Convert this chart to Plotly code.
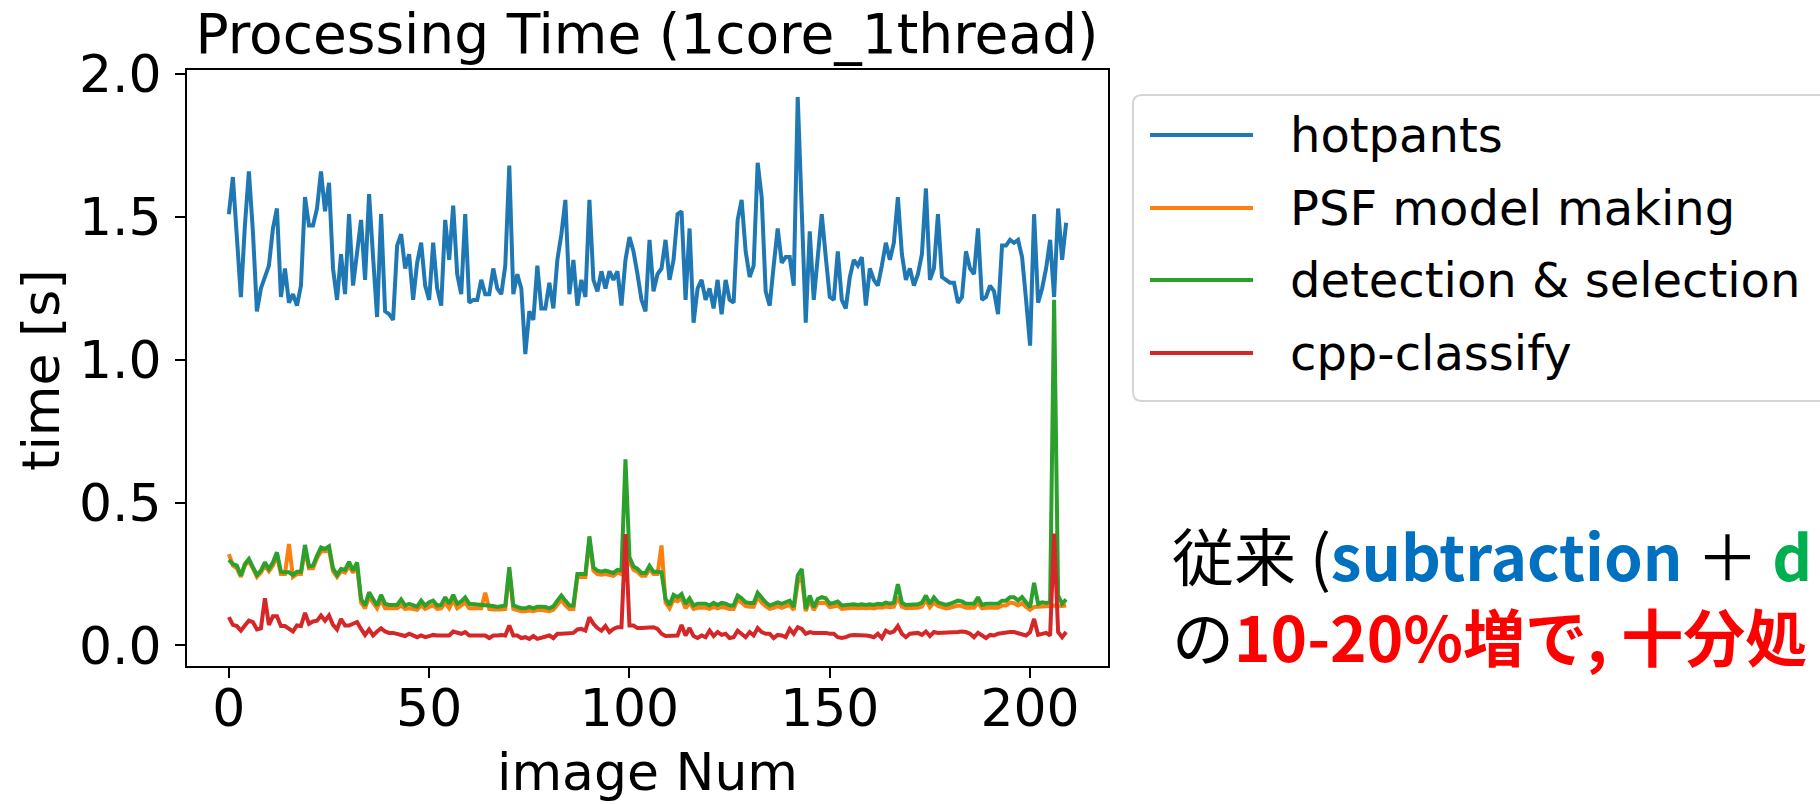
import plotly.graph_objects as go

# ---- data -------------------------------------------------------------
image_num = list(range(210))

hotpants = [
    1.51, 1.64, 1.43, 1.22, 1.47, 1.66, 1.45, 1.17, 1.25, 1.29,
    1.33, 1.46, 1.53, 1.22, 1.32, 1.20, 1.23, 1.19, 1.26, 1.57,
    1.47, 1.47, 1.53, 1.66, 1.52, 1.62, 1.32, 1.21, 1.37, 1.23,
    1.51, 1.26, 1.37, 1.49, 1.28, 1.58, 1.36, 1.15, 1.51, 1.17,
    1.16, 1.14, 1.40, 1.44, 1.32, 1.37, 1.21, 1.34, 1.41, 1.26,
    1.21, 1.41, 1.25, 1.19, 1.49, 1.35, 1.54, 1.30, 1.23, 1.51,
    1.20, 1.21, 1.21, 1.28, 1.23, 1.23, 1.32, 1.25, 1.23, 1.33,
    1.68, 1.23, 1.30, 1.25, 1.02, 1.17, 1.14, 1.33, 1.18, 1.18,
    1.27, 1.18, 1.35, 1.44, 1.56, 1.23, 1.35, 1.19, 1.28, 1.22,
    1.56, 1.28, 1.24, 1.31, 1.25, 1.31, 1.28, 1.31, 1.19, 1.35,
    1.43, 1.38, 1.30, 1.21, 1.17, 1.42, 1.24, 1.30, 1.32, 1.42,
    1.28, 1.35, 1.51, 1.52, 1.21, 1.46, 1.13, 1.25, 1.28, 1.21,
    1.25, 1.18, 1.28, 1.16, 1.28, 1.21, 1.20, 1.49, 1.56, 1.38,
    1.29, 1.33, 1.69, 1.57, 1.24, 1.19, 1.33, 1.46, 1.34, 1.36,
    1.36, 1.26, 1.92, 1.53, 1.13, 1.45, 1.21, 1.36, 1.51, 1.36,
    1.22, 1.21, 1.38, 1.21, 1.18, 1.29, 1.35, 1.33, 1.36, 1.19,
    1.32, 1.28, 1.26, 1.33, 1.41, 1.35, 1.41, 1.57, 1.37, 1.28,
    1.32, 1.26, 1.30, 1.37, 1.60, 1.28, 1.32, 1.51, 1.29, 1.28,
    1.27, 1.27, 1.20, 1.22, 1.38, 1.32, 1.30, 1.46, 1.21, 1.22,
    1.26, 1.24, 1.16, 1.40, 1.40, 1.42, 1.41, 1.42, 1.36, 1.21,
    1.05, 1.51, 1.20, 1.25, 1.32, 1.42, 1.22, 1.53, 1.35, 1.48,
]

psf_model = [
    0.320, 0.280, 0.270, 0.240, 0.280, 0.295, 0.270, 0.240, 0.255, 0.280,
    0.260, 0.280, 0.315, 0.250, 0.250, 0.355, 0.240, 0.250, 0.250, 0.335,
    0.270, 0.270, 0.305, 0.330, 0.330, 0.335, 0.260, 0.240, 0.260, 0.255,
    0.280, 0.255, 0.280, 0.150, 0.130, 0.170, 0.150, 0.130, 0.160, 0.130,
    0.130, 0.130, 0.130, 0.140, 0.128, 0.130, 0.128, 0.125, 0.140, 0.128,
    0.135, 0.140, 0.128, 0.130, 0.150, 0.130, 0.160, 0.130, 0.140, 0.150,
    0.130, 0.130, 0.130, 0.130, 0.185, 0.128, 0.126, 0.125, 0.126, 0.128,
    0.260, 0.128, 0.124, 0.120, 0.120, 0.122, 0.120, 0.124, 0.124, 0.122,
    0.120, 0.125, 0.140, 0.160, 0.140, 0.128, 0.128, 0.240, 0.240, 0.240,
    0.370, 0.262, 0.250, 0.248, 0.250, 0.248, 0.244, 0.255, 0.250, 0.270,
    0.295, 0.265, 0.258, 0.244, 0.244, 0.268, 0.250, 0.250, 0.350, 0.150,
    0.130, 0.160, 0.155, 0.165, 0.130, 0.150, 0.128, 0.132, 0.132, 0.132,
    0.128, 0.135, 0.130, 0.135, 0.132, 0.128, 0.128, 0.160, 0.150, 0.138,
    0.136, 0.136, 0.170, 0.150, 0.138, 0.128, 0.132, 0.138, 0.132, 0.138,
    0.142, 0.124, 0.220, 0.240, 0.120, 0.160, 0.124, 0.148, 0.150, 0.150,
    0.134, 0.136, 0.140, 0.128, 0.130, 0.130, 0.132, 0.130, 0.132, 0.130,
    0.132, 0.130, 0.134, 0.132, 0.136, 0.134, 0.136, 0.170, 0.136, 0.130,
    0.130, 0.130, 0.132, 0.136, 0.160, 0.134, 0.150, 0.138, 0.134, 0.130,
    0.132, 0.136, 0.140, 0.138, 0.132, 0.132, 0.132, 0.150, 0.130, 0.132,
    0.132, 0.132, 0.132, 0.140, 0.140, 0.150, 0.148, 0.140, 0.148, 0.135,
    0.125, 0.135, 0.135, 0.138, 0.136, 0.138, 0.140, 0.138, 0.138, 0.140,
]

detection = [
    0.300, 0.285, 0.280, 0.245, 0.285, 0.303, 0.274, 0.247, 0.262, 0.291,
    0.268, 0.291, 0.326, 0.258, 0.256, 0.256, 0.247, 0.258, 0.258, 0.352,
    0.277, 0.280, 0.314, 0.343, 0.338, 0.347, 0.270, 0.247, 0.268, 0.265,
    0.293, 0.262, 0.291, 0.163, 0.140, 0.186, 0.163, 0.140, 0.177, 0.146,
    0.142, 0.142, 0.142, 0.161, 0.140, 0.146, 0.140, 0.136, 0.157, 0.140,
    0.151, 0.157, 0.140, 0.142, 0.169, 0.146, 0.177, 0.146, 0.154, 0.168,
    0.146, 0.145, 0.142, 0.142, 0.142, 0.140, 0.138, 0.135, 0.138, 0.140,
    0.274, 0.140, 0.135, 0.130, 0.130, 0.135, 0.130, 0.136, 0.136, 0.135,
    0.130, 0.137, 0.157, 0.175, 0.157, 0.140, 0.140, 0.250, 0.250, 0.250,
    0.382, 0.274, 0.262, 0.258, 0.262, 0.258, 0.254, 0.265, 0.262, 0.652,
    0.309, 0.277, 0.268, 0.254, 0.254, 0.279, 0.258, 0.258, 0.256, 0.163,
    0.142, 0.177, 0.169, 0.180, 0.146, 0.165, 0.140, 0.146, 0.146, 0.146,
    0.140, 0.149, 0.142, 0.149, 0.146, 0.140, 0.140, 0.175, 0.165, 0.151,
    0.149, 0.149, 0.184, 0.165, 0.151, 0.140, 0.146, 0.151, 0.146, 0.151,
    0.157, 0.135, 0.245, 0.268, 0.128, 0.175, 0.134, 0.163, 0.169, 0.165,
    0.146, 0.149, 0.154, 0.140, 0.142, 0.142, 0.144, 0.142, 0.144, 0.142,
    0.144, 0.142, 0.146, 0.144, 0.150, 0.146, 0.150, 0.215, 0.150, 0.142,
    0.142, 0.142, 0.144, 0.150, 0.175, 0.146, 0.168, 0.151, 0.146, 0.142,
    0.146, 0.151, 0.157, 0.154, 0.146, 0.146, 0.146, 0.169, 0.142, 0.146,
    0.146, 0.146, 0.146, 0.157, 0.157, 0.169, 0.169, 0.157, 0.169, 0.151,
    0.134, 0.219, 0.146, 0.151, 0.149, 0.151, 1.210, 0.175, 0.146, 0.161,
]

cpp_classify = [
    0.099, 0.072, 0.068, 0.052, 0.070, 0.087, 0.082, 0.056, 0.060, 0.165,
    0.072, 0.102, 0.102, 0.068, 0.068, 0.058, 0.049, 0.070, 0.068, 0.114,
    0.076, 0.084, 0.087, 0.105, 0.087, 0.105, 0.072, 0.056, 0.093, 0.070,
    0.070, 0.076, 0.082, 0.058, 0.037, 0.056, 0.035, 0.049, 0.060, 0.049,
    0.044, 0.044, 0.041, 0.037, 0.033, 0.041, 0.035, 0.029, 0.035, 0.029,
    0.033, 0.037, 0.035, 0.035, 0.035, 0.035, 0.049, 0.044, 0.041, 0.047,
    0.035, 0.035, 0.035, 0.035, 0.035, 0.026, 0.035, 0.035, 0.037, 0.035,
    0.070, 0.035, 0.035, 0.026, 0.029, 0.023, 0.033, 0.023, 0.026, 0.029,
    0.035, 0.026, 0.041, 0.041, 0.041, 0.041, 0.044, 0.056, 0.058, 0.052,
    0.099, 0.076, 0.061, 0.052, 0.068, 0.047, 0.058, 0.064, 0.064, 0.390,
    0.070, 0.070, 0.061, 0.061, 0.061, 0.064, 0.064, 0.058, 0.041, 0.033,
    0.033, 0.033, 0.035, 0.072, 0.035, 0.061, 0.033, 0.026, 0.035, 0.029,
    0.052, 0.033, 0.047, 0.037, 0.041, 0.026, 0.029, 0.052, 0.041, 0.029,
    0.047, 0.035, 0.061, 0.047, 0.041, 0.041, 0.026, 0.037, 0.035, 0.029,
    0.058, 0.041, 0.064, 0.058, 0.041, 0.047, 0.044, 0.044, 0.047, 0.044,
    0.041, 0.041, 0.029, 0.026, 0.029, 0.035, 0.037, 0.037, 0.037, 0.035,
    0.033, 0.029, 0.041, 0.026, 0.052, 0.044, 0.049, 0.068, 0.041, 0.029,
    0.041, 0.044, 0.044, 0.037, 0.049, 0.033, 0.047, 0.044, 0.044, 0.044,
    0.044, 0.044, 0.047, 0.049, 0.047, 0.041, 0.029, 0.044, 0.035, 0.026,
    0.037, 0.035, 0.041, 0.044, 0.044, 0.047, 0.047, 0.044, 0.041, 0.035,
    0.047, 0.093, 0.037, 0.041, 0.044, 0.035, 0.392, 0.047, 0.029, 0.047,
]

series_names = ["hotpants", "PSF model making", "detection & selection", "cpp-classify"]
series_values = [hotpants, psf_model, detection, cpp_classify]
series_colors = ["#1f77b4", "#ff7f0e", "#2ca02c", "#d62728"]

x_ticks = [0, 50, 100, 150, 200]
y_ticks = [0.0, 0.5, 1.0, 1.5, 2.0]

chart_title = "Processing Time (1core_1thread)"
x_label = "image Num"
y_label = "time [s]"

# ---- geometry helpers ---------------------------------------------------
W, H = 1820, 804
L, R, T, B = 187, 712, 70, 138
PW, PH = W - L - R, H - T - B


def px_x(px):
    return (px - L) / PW


def px_y(py):
    return (H - B - py) / PH


# matplotlib-style 5% autoscale margins
x_span = max(image_num) - min(image_num)
x_range = [min(image_num) - 0.05 * x_span, max(image_num) + 0.05 * x_span]
all_vals = [v for s in series_values for v in s]
y_span = max(all_vals) - min(all_vals)
y_range = [min(all_vals) - 0.05 * y_span, max(all_vals) + 0.05 * y_span]

FONT = "DejaVu Sans"
LINE_W = 4

fig = go.Figure()
for name, vals, col in zip(series_names, series_values, series_colors):
    fig.add_trace(go.Scatter(
        x=image_num, y=vals, mode="lines", name=name,
        line=dict(color=col, width=LINE_W), showlegend=False,
    ))

axis_common = dict(
    showline=True, mirror=True, linecolor="black", linewidth=2,
    ticks="outside", ticklen=10, tickwidth=2, tickcolor="black",
    showgrid=False, zeroline=False,
    tickfont=dict(family=FONT, size=52, color="black"),
)

fig.update_layout(
    width=W, height=H,
    margin=dict(l=L, r=R, t=T, b=B),
    paper_bgcolor="white", plot_bgcolor="white",
    xaxis=dict(range=x_range, tickvals=x_ticks, ticklabelstandoff=-14, **axis_common),
    yaxis=dict(range=y_range, tickvals=y_ticks, tickformat=".1f",
               ticklabelstandoff=3, **axis_common),
    title=dict(text=chart_title, x=647 / W, xanchor="center",
               y=1 - 34 / H, yanchor="middle",
               font=dict(family=FONT, size=55, color="black")),
)

annotations = []
# axis titles
annotations.append(dict(text=x_label, x=px_x(647), y=px_y(772), xref="paper", yref="paper",
                        xanchor="center", yanchor="middle", showarrow=False,
                        font=dict(family=FONT, size=52, color="black")))
annotations.append(dict(text=y_label, x=px_x(41), y=px_y(370), xref="paper", yref="paper",
                        xanchor="center", yanchor="middle", showarrow=False, textangle=-90,
                        font=dict(family=FONT, size=52, color="black")))

# legend: rounded frame, handles and labels
shapes = []
bx0, by0, bx1, by1, rad = 1133, 95, 1860, 401, 9
box_path = (
    f"M {px_x(bx0 + rad)},{px_y(by0)} L {px_x(bx1 - rad)},{px_y(by0)} "
    f"Q {px_x(bx1)},{px_y(by0)} {px_x(bx1)},{px_y(by0 + rad)} "
    f"L {px_x(bx1)},{px_y(by1 - rad)} "
    f"Q {px_x(bx1)},{px_y(by1)} {px_x(bx1 - rad)},{px_y(by1)} "
    f"L {px_x(bx0 + rad)},{px_y(by1)} "
    f"Q {px_x(bx0)},{px_y(by1)} {px_x(bx0)},{px_y(by1 - rad)} "
    f"L {px_x(bx0)},{px_y(by0 + rad)} "
    f"Q {px_x(bx0)},{px_y(by0)} {px_x(bx0 + rad)},{px_y(by0)} Z"
)
shapes.append(dict(type="path", path=box_path, xref="paper", yref="paper",
                   line=dict(color="#d4d4d4", width=2), fillcolor="white", layer="above"))

row_y = [135, 208, 280, 353]
for name, col, ry in zip(series_names, series_colors, row_y):
    shapes.append(dict(type="line", xref="paper", yref="paper",
                       x0=px_x(1150), x1=px_x(1253), y0=px_y(ry), y1=px_y(ry),
                       line=dict(color=col, width=LINE_W), layer="above"))
    annotations.append(dict(text=name, x=px_x(1288), y=px_y(ry), xref="paper", yref="paper",
                            xanchor="left", yanchor="middle", showarrow=False,
                            font=dict(family=FONT, size=48, color="black")))

# side note (Japanese), two lines in one text block
JP = "Noto Sans CJK JP"
note_text = ('従来 (<b><span style="color:#0070C0">subtraction</span></b> ＋ '
             '<b><span style="color:#00B050">d</span></b><br>'
             'の<b><span style="color:#FF0000">10-20%増で, 十分処</span></b>')
annotations.append(dict(text=note_text, x=px_x(1170), y=px_y(594), xref="paper", yref="paper",
                        xanchor="left", yanchor="middle", align="left", showarrow=False,
                        font=dict(family=JP, size=62, color="black")))

fig.update_layout(shapes=shapes, annotations=annotations)

fig.write_html("out.html")
